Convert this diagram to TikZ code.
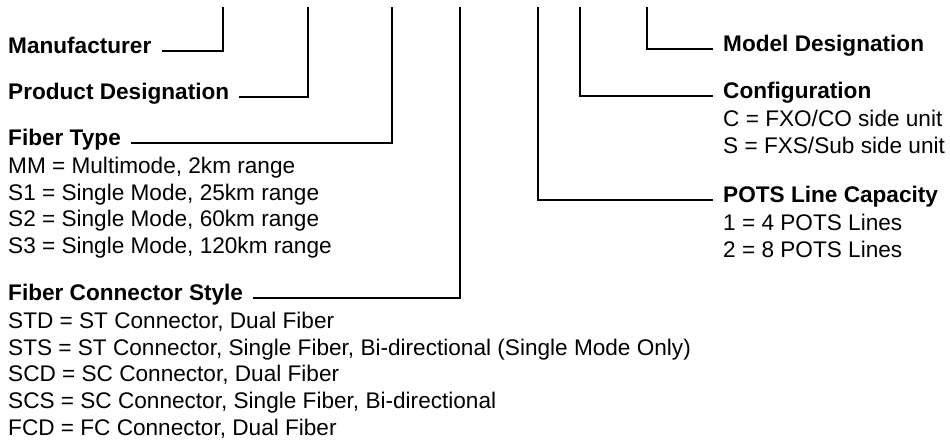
\documentclass[tikz,border=0pt]{standalone}
\usepackage{fontspec}
\setmainfont{Liberation Sans}
\usetikzlibrary{calc,positioning}
\definecolor{lineColor}{RGB}{0,0,0}
\newcommand{\diagfont}{\fontsize{22.6}{26.8}\selectfont}

\begin{document}
\begin{tikzpicture}[
        x=1pt, y=-1pt,
        title/.style={font=\diagfont\bfseries, inner xsep=10pt, inner ysep=0pt},
        list/.style={font=\diagfont, align=left, inner xsep=10pt, inner ysep=0pt, anchor=north west, yshift=-8.6pt},
        conn/.style={line width=2.6pt, lineColor}
      ]
      \useasboundingbox (0,0) rectangle (950,447);

      % tops of the code lines
      \coordinate (t1) at (223,7);
      \coordinate (t2) at (308,7);
      \coordinate (t3) at (392,7);
      \coordinate (t4) at (460,7);
      \coordinate (t5) at (538,7);
      \coordinate (t6) at (580,7);
      \coordinate (t7) at (647,7);

      % left side
      \node[title, anchor=mid west] (mfr) at (-2,51) {Manufacturer};
      \node[title, anchor=mid west] (prod) at (-2,97) {Product Designation};
      \node[title, anchor=mid west] (ftype) at (-2,143) {Fiber Type};
      \node[list] (ftypelist) at (ftype.base west) {\strut MM = Multimode, 2km range\\ S1 = Single Mode, 25km range\\ S2 = Single Mode, 60km range\\ S3 = Single Mode, 120km range};
      \node[title, anchor=mid west] (fconn) at (-2,298) {Fiber Connector Style};
      \node[list] (fconnlist) at (fconn.base west) {\strut STD = ST Connector, Dual Fiber\\ STS = ST Connector, Single Fiber, Bi-directional (Single Mode Only)\\ SCD = SC Connector, Dual Fiber\\ SCS = SC Connector, Single Fiber, Bi-directional\\ FCD = FC Connector, Dual Fiber};

      % right side
      \node[title, anchor=mid west] (model) at (713,49) {Model Designation};
      \node[title, anchor=mid west] (config) at (713,96) {Configuration};
      \node[list] (configlist) at (config.base west) {\strut C = FXO/CO side unit\\ S = FXS/Sub side unit};
      \node[title, anchor=mid west] (pots) at (713,200) {POTS Line Capacity};
      \node[list] (potslist) at (pots.base west) {\strut 1 = 4 POTS Lines\\ 2 = 8 POTS Lines};

      \draw[conn] (mfr.mid east) -| (t1);
      \draw[conn] (prod.mid east) -| (t2);
      \draw[conn] (ftype.mid east) -| (t3);
      \draw[conn] (fconn.mid east) -| (t4);
      \draw[conn] (t5) |- (pots.mid west);
      \draw[conn] (t6) |- (config.mid west);
      \draw[conn] (t7) |- (model.mid west);
    \end{tikzpicture}
\end{document}
